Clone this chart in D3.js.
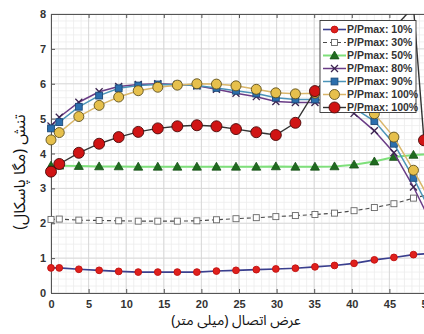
<!DOCTYPE html>
<html><head><meta charset="utf-8">
<script src="https://cdn.jsdelivr.net/npm/d3@7/dist/d3.min.js"></script>
<style>
html,body{margin:0;padding:0;background:#fff;overflow:hidden;}
svg{display:block;}
</style></head>
<body>
<script>
// ---- data ----
const xVals = [0, 1.1, 3.7, 6.4, 9.0, 11.6, 14.2, 16.8, 19.4, 22.0, 24.6, 27.3, 29.9, 32.5, 35.1, 37.7, 40.3, 43.0, 45.6, 48.2, 50.8];
const xRed100 = [0, 1.1, 3.7, 6.4, 9.0, 11.6, 14.2, 16.8, 19.4, 22.0, 24.6, 27.3, 29.9, 32.5, 35.1, 37.7, 40.3, 43.0, 45.6, 48.2, 49.6];
const p10  = [0.72,0.72,0.68,0.65,0.62,0.60,0.60,0.60,0.60,0.63,0.65,0.67,0.69,0.71,0.75,0.79,0.85,0.95,1.02,1.10,1.14];
const p30  = [2.11,2.12,2.09,2.08,2.07,2.06,2.06,2.06,2.07,2.10,2.13,2.16,2.19,2.22,2.25,2.29,2.36,2.45,2.56,2.72,2.85];
const p50  = [3.65,3.65,3.64,3.63,3.63,3.62,3.62,3.62,3.62,3.62,3.62,3.62,3.63,3.62,3.62,3.63,3.68,3.77,3.90,3.96,3.98];
const p80  = [4.79,5.04,5.47,5.77,5.92,5.98,6.00,5.98,5.94,5.84,5.73,5.63,5.49,5.46,5.46,5.40,5.15,4.65,4.02,3.04,1.90];
const p90  = [4.72,4.90,5.34,5.66,5.87,5.95,5.98,5.97,5.95,5.88,5.80,5.72,5.60,5.55,5.55,5.50,5.30,4.93,4.28,3.30,2.20];
const p100a= [4.39,4.60,5.06,5.38,5.62,5.80,5.90,5.96,6.00,5.99,5.94,5.84,5.74,5.71,5.73,5.68,5.50,5.14,4.47,3.52,2.50];
const p100b= [3.48,3.70,4.02,4.28,4.47,4.62,4.72,4.78,4.81,4.78,4.70,4.61,4.53,4.88,5.79,6.40,6.90,7.30,7.60,8.20,4.38];
const legendLabels = ["P/Pmax: 10%","P/Pmax: 30%","P/Pmax: 50%","P/Pmax: 80%","P/Pmax: 90%","P/Pmax: 100%","P/Pmax: 100%"];
const xTicks = [0,5,10,15,20,25,30,35,40,45,50];
const yTicks = [0,1,2,3,4,5,6,7,8];
const xTitle = "عرض اتصال (میلی متر)";
const yTitle = "تنش (مگا پاسکال)";

const W = 424, H = 334;
const L = 51, R = 427, T = 14, B = 293;
const svg = d3.select("body").append("svg").attr("width", W).attr("height", H);
const x = d3.scaleLinear().domain([0,50]).range([L,R]);
const y = d3.scaleLinear().domain([0,8]).range([B,T]);

svg.append("defs").append("clipPath").attr("id","clip")
  .append("rect").attr("x",L).attr("y",T).attr("width",R-L).attr("height",B-T);

// grid
const g = svg.append("g");
g.selectAll(".mx").data(d3.range(0,51,1)).enter().append("line")
  .attr("x1",d=>x(d)).attr("x2",d=>x(d)).attr("y1",T).attr("y2",B)
  .attr("stroke","#ececec").attr("stroke-width",0.8);
g.selectAll(".my").data(d3.range(0,8.01,0.2)).enter().append("line")
  .attr("y1",d=>y(d)).attr("y2",d=>y(d)).attr("x1",L).attr("x2",R)
  .attr("stroke","#ececec").attr("stroke-width",0.8);
g.selectAll(".Mx").data(xTicks).enter().append("line")
  .attr("x1",d=>x(d)).attr("x2",d=>x(d)).attr("y1",T).attr("y2",B)
  .attr("stroke","#d6d6d6").attr("stroke-width",0.9);
g.selectAll(".My").data(yTicks).enter().append("line")
  .attr("y1",d=>y(d)).attr("y2",d=>y(d)).attr("x1",L).attr("x2",R)
  .attr("stroke","#d6d6d6").attr("stroke-width",0.9);

// axes
const axFont = "'Liberation Sans', Arial, sans-serif";
const xAx = svg.append("g").attr("transform",`translate(0,${B})`)
  .call(d3.axisBottom(x).tickValues(xTicks).tickSizeInner(-4).tickSizeOuter(0).tickPadding(7));
const xAxTop = svg.append("g").attr("transform",`translate(0,${T})`)
  .call(d3.axisTop(x).tickValues(xTicks).tickSizeInner(-4).tickSizeOuter(0).tickFormat(""));
const yAx = svg.append("g").attr("transform",`translate(${L},0)`)
  .call(d3.axisLeft(y).tickValues(yTicks).tickSizeInner(-4).tickSizeOuter(0).tickPadding(5));
[xAx,xAxTop,yAx].forEach(a=>{
  a.select(".domain").attr("stroke","#555").attr("stroke-width",1);
  a.selectAll(".tick line").attr("stroke","#555");
  a.selectAll("text").attr("font-family",axFont).attr("font-weight","bold")
    .attr("font-size",11).attr("fill","#333");
});

// series
const series = [
  {v:p10, xs:xVals, line:"#3a3f8e", lw:1.6, dash:null, mk:"circle", r:3.4, fill:"#e0201c", stroke:"#c01010"},
  {v:p30, xs:xVals, line:"#4a4a4a", lw:1.1, dash:"4,3", mk:"square", r:3, fill:"#fff", stroke:"#666"},
  {v:p50, xs:xVals, line:"#7ee07a", lw:2, dash:null, mk:"triangle", r:4.5, fill:"#1f6b1f", stroke:"#174f17"},
  {v:p80, xs:xVals, line:"#6a3c86", lw:1.5, dash:null, mk:"x", r:3.5, fill:"none", stroke:"#3b2450"},
  {v:p90, xs:xVals, line:"#4b94b8", lw:1.5, dash:null, mk:"square", r:3.4, fill:"#2b6fae", stroke:"#1d4a78"},
  {v:p100a, xs:xVals, line:"#d9b66a", lw:1.5, dash:null, mk:"circle", r:5, fill:"#e6c04c", stroke:"#5e5020"},
  {v:p100b, xs:xRed100, line:"#333333", lw:1.4, dash:null, mk:"circle", r:5.5, fill:"#d01414", stroke:"#4a0a0a"}
];

function drawMarker(sel, s, cx, cy){
  if(s.mk==="circle"){
    sel.append("circle").attr("cx",cx).attr("cy",cy).attr("r",s.r)
      .attr("fill",s.fill).attr("stroke",s.stroke).attr("stroke-width",0.9);
  } else if(s.mk==="square"){
    sel.append("rect").attr("x",cx-s.r).attr("y",cy-s.r).attr("width",2*s.r).attr("height",2*s.r)
      .attr("fill",s.fill).attr("stroke",s.stroke).attr("stroke-width",0.9);
  } else if(s.mk==="triangle"){
    const r=s.r;
    sel.append("path").attr("d",`M${cx},${cy-r}L${cx+r},${cy+r*0.75}L${cx-r},${cy+r*0.75}Z`)
      .attr("fill",s.fill).attr("stroke",s.stroke).attr("stroke-width",0.8);
  } else if(s.mk==="x"){
    const r=s.r;
    sel.append("path").attr("d",`M${cx-r},${cy-r}L${cx+r},${cy+r}M${cx-r},${cy+r}L${cx+r},${cy-r}`)
      .attr("stroke",s.stroke).attr("stroke-width",1.3).attr("fill","none");
  }
}

const lineGen = d3.line();
series.forEach(s=>{
  const pts = s.v.map((v,i)=>[x(s.xs[i]), y(v)]);
  const gs = svg.append("g");
  gs.append("path").attr("d",lineGen(pts)).attr("fill","none")
    .attr("stroke",s.line).attr("stroke-width",s.lw)
    .attr("stroke-dasharray",s.dash).attr("clip-path","url(#clip)");
  s.v.forEach((v,i)=>{
    const xv=s.xs[i];
    if(v>=0 && v<=8 && xv>=0 && xv<=50) drawMarker(gs, s, x(xv), y(v));
  });
});

// legend
const lg = svg.append("g");
const lx0=320, ly0=20.5, lw=96, lh=92;
lg.append("rect").attr("x",lx0).attr("y",ly0).attr("width",lw).attr("height",lh)
  .attr("fill","#fff").attr("stroke","#333").attr("stroke-width",0.9);
series.forEach((s,i)=>{
  const cy = 29.5 + i*13;
  lg.append("line").attr("x1",323).attr("x2",346).attr("y1",cy).attr("y2",cy)
    .attr("stroke",s.line).attr("stroke-width",s.lw).attr("stroke-dasharray",s.dash);
  drawMarker(lg, s, 334.5, cy);
  lg.append("text").attr("x",347).attr("y",cy+3.8).text(legendLabels[i])
    .attr("font-family",axFont).attr("font-weight","bold").attr("font-size",10.5).attr("fill","#333");
});

// titles
const faFont = "'Noto Sans Arabic','DejaVu Sans',sans-serif";
svg.append("text").attr("x",236).attr("y",325).attr("text-anchor","middle")
  .attr("direction","rtl").attr("font-family",faFont).attr("font-size",14).attr("fill","#111").text(xTitle);
svg.append("text").attr("transform","translate(25,172) rotate(-90)").attr("text-anchor","middle")
  .attr("direction","rtl").attr("font-family",faFont).attr("font-size",16).attr("fill","#111").text(yTitle);
</script>
</body></html>
